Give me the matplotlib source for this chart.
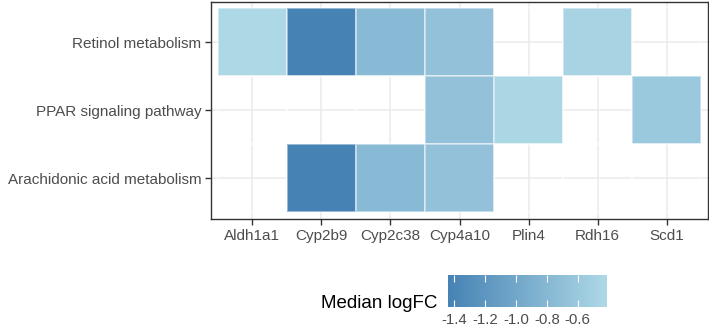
import matplotlib
matplotlib.use("Agg")
import matplotlib.pyplot as plt
import numpy as np
from matplotlib.colors import LinearSegmentedColormap

# Data
genes = ["Aldh1a1", "Cyp2b9", "Cyp2c38", "Cyp4a10", "Plin4", "Rdh16", "Scd1"]
pathways = ["Retinol metabolism", "PPAR signaling pathway", "Arachidonic acid metabolism"]
gene_logfc = [-0.41, -1.44, -0.77, -0.68, -0.43, -0.47, -0.60]
pathway_genes = [
    ["Aldh1a1", "Cyp2b9", "Cyp2c38", "Cyp4a10", "Rdh16"],
    ["Cyp4a10", "Plin4", "Scd1"],
    ["Cyp2b9", "Cyp2c38", "Cyp4a10"],
]
cbar_ticks = [-1.4, -1.2, -1.0, -0.8, -0.6]

plt.rcParams["font.family"] = ["Liberation Sans", "DejaVu Sans"]

# matrix of values, empty where gene not in pathway
mat = np.full((len(pathways), len(genes)), np.nan)
for i, plist in enumerate(pathway_genes):
    for g in plist:
        j = genes.index(g)
        mat[i, j] = gene_logfc[j]
mat = np.ma.masked_invalid(mat)

cmap = LinearSegmentedColormap.from_list("blues", ["#4682B4", "#ADD8E6"])
vmin, vmax = min(gene_logfc), max(gene_logfc)

fig = plt.figure(figsize=(7.09, 3.29), dpi=100)
ax = fig.add_axes([211 / 709, 1 - 219 / 329, 497 / 709, 217.5 / 329])

xe = np.arange(len(genes) + 1) - 0.5
ye = np.arange(len(pathways) + 1) - 0.5
mesh = ax.pcolormesh(xe, ye, mat, cmap=cmap, vmin=vmin, vmax=vmax,
                     edgecolors=(1, 1, 1, 0.45), linewidth=0.25, zorder=2)

ax.set_xlim(-0.6, len(genes) - 0.4)
ax.set_ylim(len(pathways) - 0.4, -0.6)
ax.set_xticks(range(len(genes)))
ax.set_xticklabels(genes)
ax.set_yticks(range(len(pathways)))
ax.set_yticklabels(pathways)
ax.grid(True, color="#EBEBEB", linewidth=1.1, zorder=0)
ax.set_axisbelow(True)
ax.tick_params(length=4, width=1, color="#333333", labelcolor="#4D4D4D",
               labelsize=11, pad=3)
for s in ax.spines.values():
    s.set_color("#333333")
    s.set_linewidth(1.0)

# colour bar
cax = fig.add_axes([448 / 709, 1 - 307 / 329, 159 / 709, 32 / 329])
cb = fig.colorbar(mesh, cax=cax, orientation="horizontal", ticks=cbar_ticks)
cb.outline.set_visible(False)
cb.ax.set_xticklabels(["-1.4", "-1.2", "-1.0", "-0.8", "-0.6"])
cb.ax.tick_params(axis="x", direction="in", length=5, width=0.8, color="white",
                  labelcolor="#4D4D4D", labelsize=10.8, top=True, pad=4)
fig.text(437 / 709, 1 - 304 / 329, "Median logFC", ha="right", va="center",
         fontsize=13.5, color="black")

fig.savefig("out.png", dpi=100)
